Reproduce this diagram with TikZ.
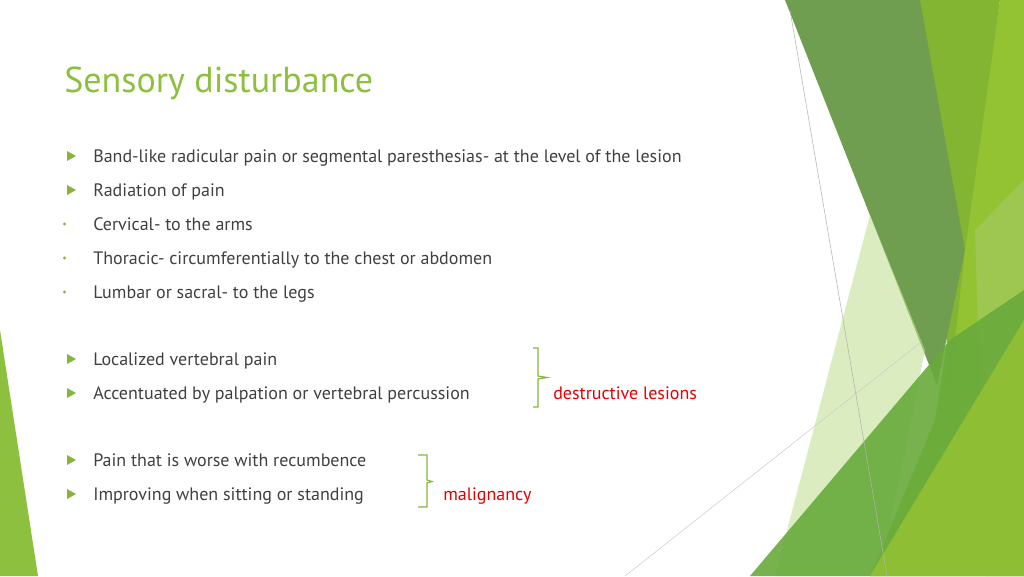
\documentclass[tikz,border=0pt]{standalone}
\usepackage{fontspec}
\setmainfont{PT Sans}
\definecolor{txt}{HTML}{404040}
\definecolor{bul}{HTML}{84B53C}
\definecolor{ttl}{HTML}{8DC03E}
\definecolor{gA}{RGB}{147,194,50}
\definecolor{gB}{RGB}{132,181,50}
\definecolor{gC}{RGB}{112,158,80}
\definecolor{gD}{RGB}{168,205,110}
\definecolor{gE}{RGB}{190,220,140}
\definecolor{gF}{RGB}{104,170,60}
\begin{document}
\begin{tikzpicture}[x=0.75pt,y=-0.75pt,
  body/.style={anchor=base west,inner sep=0,text=txt,font=\fontsize{13.5}{16}\selectfont},
  redtext/.style={body,text=red!90!black},
  tri/.style={fill=bul},
  brc/.style={draw=bul,line width=0.9pt}]
\useasboundingbox (0,0) rectangle (1024,576);
% decoration
\fill[ttl] (0,330) -- (38,576) -- (0,576) -- cycle;
\fill[gA] (1000,0) -- (1024,0) -- (1024,576) -- (870,576) -- (935,420) -- cycle;
\fill[gB] (920,0) -- (1000,0) -- (965,250) -- (950,385) -- cycle;
\fill[gC] (785,0) -- (920,0) -- (965,250) -- (937,385) -- cycle;
\fill[gD,opacity=0.5] (975,230) -- (1024,180) -- (1024,576) -- (985,576) -- cycle;
\fill[gE,opacity=0.55] (870,215) -- (925,350) -- (880,576) -- (775,576) -- cycle;
\fill[gF,opacity=0.9] (750,576) -- (950,340) -- (1024,290) -- (1024,576) -- cycle;
\fill[gA,opacity=0.85] (870,576) -- (1024,320) -- (1024,576) -- cycle;
\draw[gray!60,line width=0.4pt] (790,10) -- (887,576);
\draw[gray!40,line width=0.4pt] (625,576) -- (920,343);
% title
\node[anchor=base west,inner sep=0,text=ttl,font=\fontsize{27}{30}\selectfont] (title) at (64,92) {Sensory disturbance};
% bullets
\foreach \y in {162,196,365,399,466,500}{
  \fill[tri] (67,\y-11) -- (76,\y-6) -- (67,\y-1) -- cycle;}
\foreach \y in {230,264,298}{\fill[bul] (64.5,\y-6) circle (1.6);}
\node[body] (a) at (93,162) {Band-like radicular pain or segmental paresthesias- at the level of the lesion};
\node[body] (b) at (93,196) {Radiation of pain};
\node[body] (c) at (93,230) {Cervical- to the arms};
\node[body] (d) at (93,264) {Thoracic- circumferentially to the chest or abdomen};
\node[body] (e) at (93,298) {Lumbar or sacral- to the legs};
\node[body] (f) at (93,365) {Localized vertebral pain};
\node[body] (g) at (93,399) {Accentuated by palpation or vertebral percussion};
\node[body] (h) at (93,466) {Pain that is worse with recumbence};
\node[body] (i) at (93,500) {Improving when sitting or standing};
\node[redtext] (r1) at (553,399) {destructive lesions};
\node[redtext] (r2) at (443,500) {malignancy};
% braces
\draw[brc] (533,348) -- (538,348) -- (538,376) -- (547,377.5) -- (538,379) -- (538,407) -- (533,407);
\draw[brc] (418,455) -- (427,455) -- (427,480) -- (432,481.5) -- (427,483) -- (427,507) -- (418,507);
\end{tikzpicture}
\end{document}
